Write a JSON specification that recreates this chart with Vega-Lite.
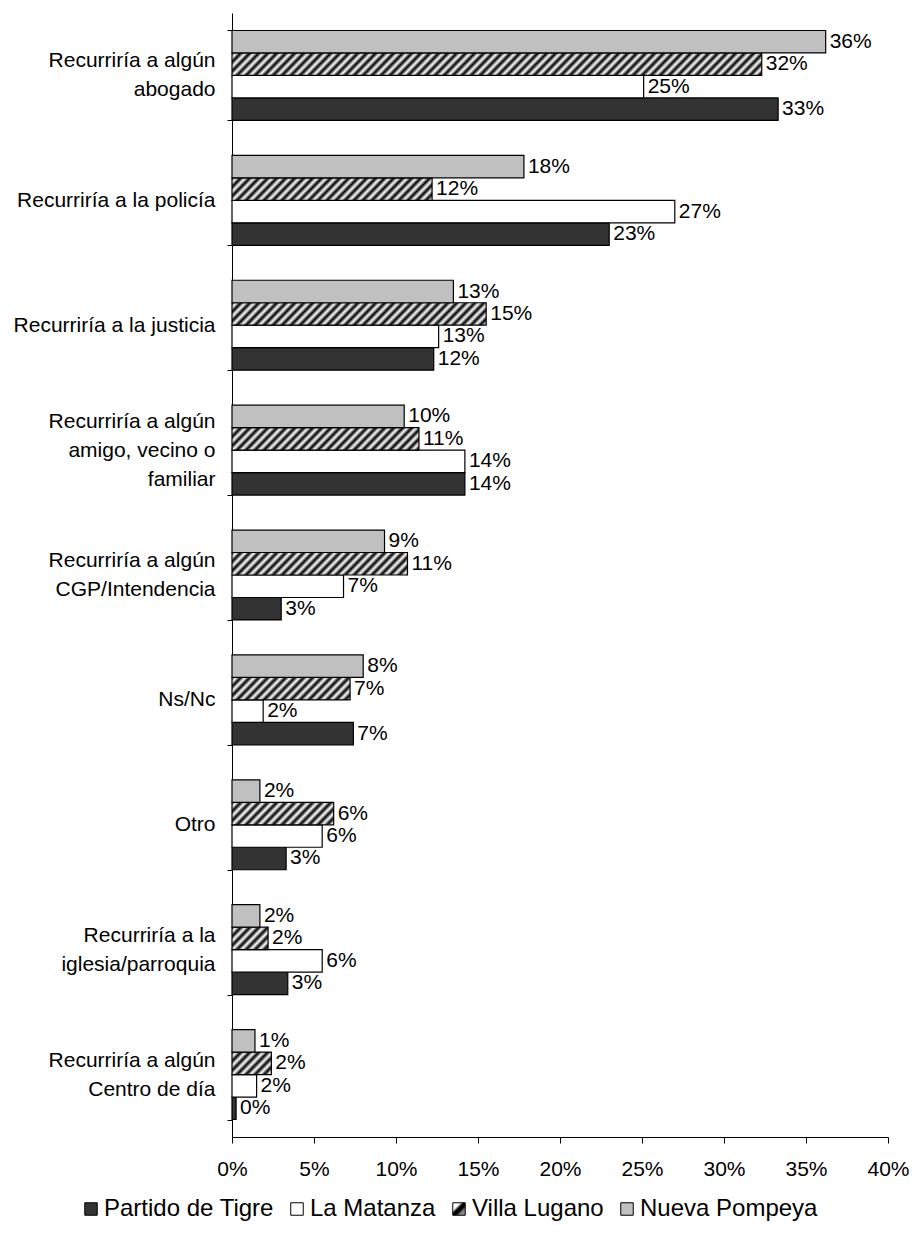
{
  "$schema": "https://vega.github.io/schema/vega-lite/v6.json",
  "autosize": {"type": "none"},
  "padding": {"left": 232, "top": 13, "right": 26, "bottom": 102},
  "width": 656,
  "height": 1124,
  "background": "white",
  "config": {
    "view": {"stroke": null},
    "font": "Liberation Sans",
    "text": {"font": "Liberation Sans"}
  },
  "params": [
    {"name": "lgrad", "value": {"gradient": "linear", "x1": 0, "y1": 0, "x2": 1, "y2": 1, "stops": [{"offset": 0, "color": "#ffffff"}, {"offset": 0.3, "color": "#ffffff"}, {"offset": 0.45, "color": "#000000"}, {"offset": 0.6, "color": "#000000"}, {"offset": 0.75, "color": "#888888"}, {"offset": 1, "color": "#888888"}]}},
    {"name": "hatch", "value": [
      {"offset":0,"color":"#000"},{"offset":0.008,"color":"#fff"},{"offset":0.016,"color":"#000"},{"offset":0.024,"color":"#fff"},{"offset":0.032,"color":"#000"},{"offset":0.04,"color":"#fff"},{"offset":0.048,"color":"#000"},{"offset":0.056,"color":"#fff"},{"offset":0.064,"color":"#000"},{"offset":0.072,"color":"#fff"},
      {"offset":0.08,"color":"#000"},{"offset":0.088,"color":"#fff"},{"offset":0.096,"color":"#000"},{"offset":0.104,"color":"#fff"},{"offset":0.112,"color":"#000"},{"offset":0.12,"color":"#fff"},{"offset":0.128,"color":"#000"},{"offset":0.136,"color":"#fff"},{"offset":0.144,"color":"#000"},{"offset":0.152,"color":"#fff"},
      {"offset":0.16,"color":"#000"},{"offset":0.168,"color":"#fff"},{"offset":0.176,"color":"#000"},{"offset":0.184,"color":"#fff"},{"offset":0.192,"color":"#000"},{"offset":0.2,"color":"#fff"},{"offset":0.208,"color":"#000"},{"offset":0.216,"color":"#fff"},{"offset":0.224,"color":"#000"},{"offset":0.232,"color":"#fff"},
      {"offset":0.24,"color":"#000"},{"offset":0.248,"color":"#fff"},{"offset":0.256,"color":"#000"},{"offset":0.264,"color":"#fff"},{"offset":0.272,"color":"#000"},{"offset":0.28,"color":"#fff"},{"offset":0.288,"color":"#000"},{"offset":0.296,"color":"#fff"},{"offset":0.304,"color":"#000"},{"offset":0.312,"color":"#fff"},
      {"offset":0.32,"color":"#000"},{"offset":0.328,"color":"#fff"},{"offset":0.336,"color":"#000"},{"offset":0.344,"color":"#fff"},{"offset":0.352,"color":"#000"},{"offset":0.36,"color":"#fff"},{"offset":0.368,"color":"#000"},{"offset":0.376,"color":"#fff"},{"offset":0.384,"color":"#000"},{"offset":0.392,"color":"#fff"},
      {"offset":0.4,"color":"#000"},{"offset":0.408,"color":"#fff"},{"offset":0.416,"color":"#000"},{"offset":0.424,"color":"#fff"},{"offset":0.432,"color":"#000"},{"offset":0.44,"color":"#fff"},{"offset":0.448,"color":"#000"},{"offset":0.456,"color":"#fff"},{"offset":0.464,"color":"#000"},{"offset":0.472,"color":"#fff"},
      {"offset":0.48,"color":"#000"},{"offset":0.488,"color":"#fff"},{"offset":0.496,"color":"#000"},{"offset":0.504,"color":"#fff"},{"offset":0.512,"color":"#000"},{"offset":0.52,"color":"#fff"},{"offset":0.528,"color":"#000"},{"offset":0.536,"color":"#fff"},{"offset":0.544,"color":"#000"},{"offset":0.552,"color":"#fff"},
      {"offset":0.56,"color":"#000"},{"offset":0.568,"color":"#fff"},{"offset":0.576,"color":"#000"},{"offset":0.584,"color":"#fff"},{"offset":0.592,"color":"#000"},{"offset":0.6,"color":"#fff"},{"offset":0.608,"color":"#000"},{"offset":0.616,"color":"#fff"},{"offset":0.624,"color":"#000"},{"offset":0.632,"color":"#fff"},
      {"offset":0.64,"color":"#000"},{"offset":0.648,"color":"#fff"},{"offset":0.656,"color":"#000"},{"offset":0.664,"color":"#fff"},{"offset":0.672,"color":"#000"},{"offset":0.68,"color":"#fff"},{"offset":0.688,"color":"#000"},{"offset":0.696,"color":"#fff"},{"offset":0.704,"color":"#000"},{"offset":0.712,"color":"#fff"},
      {"offset":0.72,"color":"#000"},{"offset":0.728,"color":"#fff"},{"offset":0.736,"color":"#000"},{"offset":0.744,"color":"#fff"},{"offset":0.752,"color":"#000"},{"offset":0.76,"color":"#fff"},{"offset":0.768,"color":"#000"},{"offset":0.776,"color":"#fff"},{"offset":0.784,"color":"#000"},{"offset":0.792,"color":"#fff"},
      {"offset":0.8,"color":"#000"},{"offset":0.808,"color":"#fff"},{"offset":0.816,"color":"#000"},{"offset":0.824,"color":"#fff"},{"offset":0.832,"color":"#000"},{"offset":0.84,"color":"#fff"},{"offset":0.848,"color":"#000"},{"offset":0.856,"color":"#fff"},{"offset":0.864,"color":"#000"},{"offset":0.872,"color":"#fff"},
      {"offset":0.88,"color":"#000"},{"offset":0.888,"color":"#fff"},{"offset":0.896,"color":"#000"},{"offset":0.904,"color":"#fff"},{"offset":0.912,"color":"#000"},{"offset":0.92,"color":"#fff"},{"offset":0.928,"color":"#000"},{"offset":0.936,"color":"#fff"},{"offset":0.944,"color":"#000"},{"offset":0.952,"color":"#fff"},
      {"offset":0.96,"color":"#000"},{"offset":0.968,"color":"#fff"},{"offset":0.976,"color":"#000"},{"offset":0.984,"color":"#fff"},{"offset":0.992,"color":"#000"},{"offset":1,"color":"#fff"}
    ]}
  ],
  "data": {"values": [
    {"category": "Recurriría a algún abogado", "series": "Partido de Tigre", "value": 33.3, "label": "33%"},
    {"category": "Recurriría a algún abogado", "series": "La Matanza", "value": 25.1, "label": "25%"},
    {"category": "Recurriría a algún abogado", "series": "Villa Lugano", "value": 32.3, "label": "32%"},
    {"category": "Recurriría a algún abogado", "series": "Nueva Pompeya", "value": 36.2, "label": "36%"},
    {"category": "Recurriría a la policía", "series": "Partido de Tigre", "value": 23.0, "label": "23%"},
    {"category": "Recurriría a la policía", "series": "La Matanza", "value": 27.0, "label": "27%"},
    {"category": "Recurriría a la policía", "series": "Villa Lugano", "value": 12.2, "label": "12%"},
    {"category": "Recurriría a la policía", "series": "Nueva Pompeya", "value": 17.8, "label": "18%"},
    {"category": "Recurriría a la justicia", "series": "Partido de Tigre", "value": 12.3, "label": "12%"},
    {"category": "Recurriría a la justicia", "series": "La Matanza", "value": 12.6, "label": "13%"},
    {"category": "Recurriría a la justicia", "series": "Villa Lugano", "value": 15.5, "label": "15%"},
    {"category": "Recurriría a la justicia", "series": "Nueva Pompeya", "value": 13.5, "label": "13%"},
    {"category": "Recurriría a algún amigo, vecino o familiar", "series": "Partido de Tigre", "value": 14.2, "label": "14%"},
    {"category": "Recurriría a algún amigo, vecino o familiar", "series": "La Matanza", "value": 14.2, "label": "14%"},
    {"category": "Recurriría a algún amigo, vecino o familiar", "series": "Villa Lugano", "value": 11.4, "label": "11%"},
    {"category": "Recurriría a algún amigo, vecino o familiar", "series": "Nueva Pompeya", "value": 10.5, "label": "10%"},
    {"category": "Recurriría a algún CGP/Intendencia", "series": "Partido de Tigre", "value": 3.0, "label": "3%"},
    {"category": "Recurriría a algún CGP/Intendencia", "series": "La Matanza", "value": 6.8, "label": "7%"},
    {"category": "Recurriría a algún CGP/Intendencia", "series": "Villa Lugano", "value": 10.7, "label": "11%"},
    {"category": "Recurriría a algún CGP/Intendencia", "series": "Nueva Pompeya", "value": 9.3, "label": "9%"},
    {"category": "Ns/Nc", "series": "Partido de Tigre", "value": 7.4, "label": "7%"},
    {"category": "Ns/Nc", "series": "La Matanza", "value": 1.9, "label": "2%"},
    {"category": "Ns/Nc", "series": "Villa Lugano", "value": 7.2, "label": "7%"},
    {"category": "Ns/Nc", "series": "Nueva Pompeya", "value": 8.0, "label": "8%"},
    {"category": "Otro", "series": "Partido de Tigre", "value": 3.3, "label": "3%"},
    {"category": "Otro", "series": "La Matanza", "value": 5.5, "label": "6%"},
    {"category": "Otro", "series": "Villa Lugano", "value": 6.2, "label": "6%"},
    {"category": "Otro", "series": "Nueva Pompeya", "value": 1.7, "label": "2%"},
    {"category": "Recurriría a la iglesia/parroquia", "series": "Partido de Tigre", "value": 3.4, "label": "3%"},
    {"category": "Recurriría a la iglesia/parroquia", "series": "La Matanza", "value": 5.5, "label": "6%"},
    {"category": "Recurriría a la iglesia/parroquia", "series": "Villa Lugano", "value": 2.2, "label": "2%"},
    {"category": "Recurriría a la iglesia/parroquia", "series": "Nueva Pompeya", "value": 1.7, "label": "2%"},
    {"category": "Recurriría a algún Centro de día", "series": "Partido de Tigre", "value": 0.25, "label": "0%"},
    {"category": "Recurriría a algún Centro de día", "series": "La Matanza", "value": 1.5, "label": "2%"},
    {"category": "Recurriría a algún Centro de día", "series": "Villa Lugano", "value": 2.4, "label": "2%"},
    {"category": "Recurriría a algún Centro de día", "series": "Nueva Pompeya", "value": 1.4, "label": "1%"}
  ]},
  "encoding": {
    "y": {
      "field": "category", "type": "nominal", "sort": null,
      "scale": {"paddingInner": 0.28, "paddingOuter": 0.14},
      "axis": {
        "title": null,
        "tickBand": "extent",
        "domainColor": "black", "domainWidth": 1,
        "tickColor": "black", "tickSize": 5, "tickWidth": 1,
        "labelFont": "Liberation Sans", "labelFontSize": 21, "labelColor": "black",
        "labelPadding": 12, "labelAlign": "right", "labelBaseline": "middle",
        "labelLineHeight": 29, "labelLimit": 400,
        "labelOffset": {
          "condition": [
            {"test": "datum.value == 'Recurriría a algún amigo, vecino o familiar'", "value": -29},
            {"test": "indexof(['Recurriría a algún abogado', 'Recurriría a algún CGP/Intendencia', 'Recurriría a la iglesia/parroquia', 'Recurriría a algún Centro de día'], datum.value) >= 0", "value": -14.5}
          ],
          "value": 0
        },
        "labelExpr": "datum.value == 'Recurriría a algún abogado' ? ['Recurriría a algún', 'abogado\u00a0\u00a0\u00a0\u00a0\u00a0\u00a0\u00a0'] : datum.value == 'Recurriría a algún amigo, vecino o familiar' ? ['Recurriría a algún', 'amigo, vecino o\u00a0\u00a0', 'familiar\u00a0\u00a0\u00a0\u00a0\u00a0\u00a0\u00a0\u00a0'] : datum.value == 'Recurriría a algún CGP/Intendencia' ? ['Recurriría a algún', 'CGP/Intendencia\u00a0'] : datum.value == 'Recurriría a la iglesia/parroquia' ? ['Recurriría a la\u00a0\u00a0', 'iglesia/parroquia'] : datum.value == 'Recurriría a algún Centro de día' ? ['Recurriría a algún', 'Centro de día\u00a0\u00a0\u00a0'] : datum.label"
      }
    },
    "yOffset": {
      "field": "series", "type": "nominal",
      "sort": ["Nueva Pompeya", "Villa Lugano", "La Matanza", "Partido de Tigre"],
      "scale": {"paddingInner": 0, "paddingOuter": 0}
    },
    "x": {
      "field": "value", "type": "quantitative", "stack": null,
      "scale": {"domain": [0, 40], "nice": false, "zero": true},
      "axis": {
        "title": null, "grid": false,
        "values": [0, 5, 10, 15, 20, 25, 30, 35, 40],
        "labelExpr": "datum.value + '%'",
        "domainColor": "black", "tickColor": "black", "tickSize": 6,
        "labelFont": "Liberation Sans", "labelFontSize": 21, "labelColor": "black",
        "labelPadding": 15, "labelFlush": false
      }
    }
  },
  "layer": [
    {
      "mark": {"type": "bar", "stroke": "black", "strokeWidth": 1.2},
      "encoding": {
        "fill": {
          "field": "series", "type": "nominal",
          "scale": {
            "domain": ["Partido de Tigre", "La Matanza", "Villa Lugano", "Nueva Pompeya"],
            "range": ["#333333", "#ffffff", {"expr": "lgrad"}, "#c0c0c0"]
          },
          "condition": {
            "test": "datum.series === 'Villa Lugano'",
            "value": {"expr": "{gradient:'linear',x1:0,y1:0,x2:562.5*(scale('x',datum.value)-scale('x',0))/(pow(scale('x',datum.value)-scale('x',0),2)+484),y2:562.5*22/(pow(scale('x',datum.value)-scale('x',0),2)+484),stops:hatch}"}
          },
          "legend": {
            "title": null,
            "orient": "none",
            "legendX": -153,
            "legendY": 1184,
            "direction": "horizontal",
            "padding": 0,
            "symbolType": "square",
            "symbolSize": 156,
            "symbolStrokeColor": "black",
            "symbolStrokeWidth": 1,
            "symbolOpacity": 1,
            "labelFont": "Liberation Sans",
            "labelFontSize": 24,
            "labelColor": "black",
            "labelOffset": 1,
            "labelLimit": 400,
            "columnPadding": 11
          }
        }
      }
    },
    {
      "mark": {"type": "text", "align": "left", "baseline": "middle", "dx": 4, "font": "Liberation Sans", "fontSize": 21, "color": "black"},
      "encoding": {
        "text": {"field": "label", "type": "nominal"}
      }
    }
  ]
}
